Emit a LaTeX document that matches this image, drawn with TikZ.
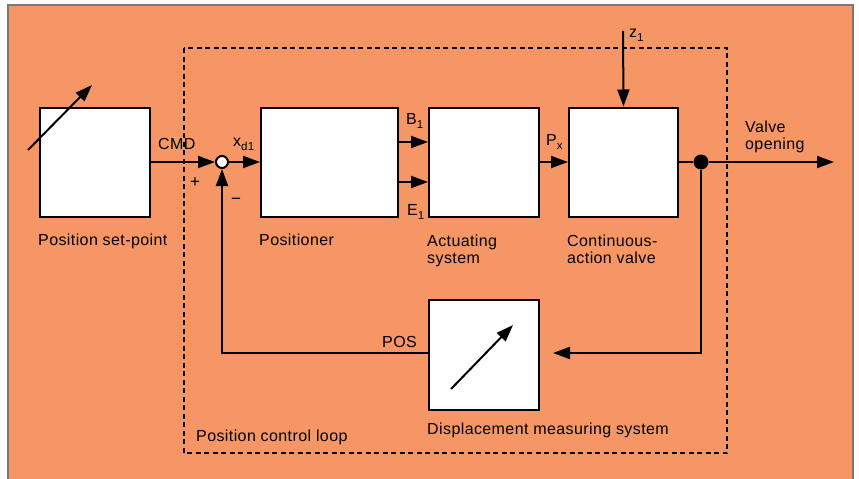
\documentclass[tikz,border=0pt]{standalone}
\usepackage{fontspec}
\setmainfont[LetterSpace=2.5]{Liberation Sans}
\usetikzlibrary{arrows.meta}
\definecolor{bg}{RGB}{246,150,100}
\definecolor{framegray}{RGB}{120,120,120}
\newcommand\sbs[1]{\raisebox{-4.5pt}{\fontsize{11.5}{11.5}\selectfont #1}}
\begin{document}
\begin{tikzpicture}[x=1pt,y=-1pt,
  lbl/.style={anchor=base west, inner sep=0, font=\fontsize{16}{17}\selectfont},
  sgn/.style={inner sep=0, font=\fontsize{17}{17}\selectfont},
  blk/.style={draw, line width=2pt, fill=white, inner sep=0, minimum height=109pt},
  sig/.style={line width=2pt, -{Triangle[length=17pt,width=12pt]}},
  wire/.style={line width=2pt},
  loop/.style={line width=1.8pt, dash pattern=on 5pt off 3.5pt}]
\useasboundingbox (0,0) rectangle (859,479);
\fill[bg] (8,5) rectangle (853,495);
\draw[framegray, line width=1.5pt] (8,495) -- (8,5) -- (853,5) -- (853,495);
% dashed loop
\draw[loop] (184,48) rectangle (727,453);
% blocks
\node[blk, minimum width=110pt] (sp) at (95,162) {};
\node[blk, minimum width=137pt] (posr) at (329.5,162) {};
\node[blk, minimum width=110pt] (act) at (484,162) {};
\node[blk, minimum width=109pt] (valve) at (623.5,162) {};
\node[blk, minimum width=110pt, minimum height=110pt] (disp) at (484,355) {};
\node[circle, draw, fill=white, line width=2pt, minimum size=12pt, inner sep=0] (sum) at (222,162) {};
\node[circle, fill=black, minimum size=15pt, inner sep=0] (dot) at (701,162) {};
% coordinates
\coordinate (spa) at (28,150);
\coordinate (spb) at (92,85);
\coordinate (dma) at (451,389);
\coordinate (dmb) at (513,325);
\coordinate (zin) at (623,31);
\coordinate (out) at (834,162);
\coordinate (fbin) at (553,353);
% connectors
\draw[sig] (spa) -- (spb);
\draw[sig] (dma) -- (dmb);
\draw[sig] (sp.east) -- (sum.west);
\draw[sig] (sum.east) -- (posr.west);
\draw[sig] ([yshift=20pt]posr.east) -- ([yshift=20pt]act.west);
\draw[sig] ([yshift=-20pt]posr.east) -- ([yshift=-20pt]act.west);
\draw[sig] (act.east) -- (valve.west);
\draw[sig] (zin) -- (valve.north);
\draw[wire] (valve.east) -- (dot);
\draw[sig] (dot) -- (out);
\draw[sig] (dot) |- (fbin);
\draw[sig] (disp.west |- fbin) -| (sum.south);
% labels
\node[lbl] (lcmd) at (158,149) {CMD};
\node[sgn] (lplus) at (195,183) {+};
\node[sgn] (lminus) at (236,201) {−};
\node[lbl] (lxd) at (233,146) {x\sbs{d1}};
\node[lbl] (lb) at (406,124) {B\sbs{1}};
\node[lbl] (le) at (407,215) {E\sbs{1}};
\node[lbl] (lpx) at (546,145) {P\sbs{x}};
\node[lbl] (lz) at (629,37) {z\sbs{1}};
\node[lbl] (lvo1) at (745,132) {Valve};
\node[lbl] (lvo2) at (745,149) {opening};
\node[lbl] (lpos) at (382,347) {POS};
\node[lbl] (lsp) at (38,245) {Position set-point};
\node[lbl] (lpr) at (259,245) {Positioner};
\node[lbl] (lac1) at (427,246) {Actuating};
\node[lbl] (lac2) at (427,263) {system};
\node[lbl] (lcv1) at (567,246) {Continuous-};
\node[lbl] (lcv2) at (567,263) {action valve};
\node[lbl] (ldm) at (427,434) {Displacement measuring system};
\node[lbl] (lpcl) at (196,441) {Position control loop};
\end{tikzpicture}
\end{document}
